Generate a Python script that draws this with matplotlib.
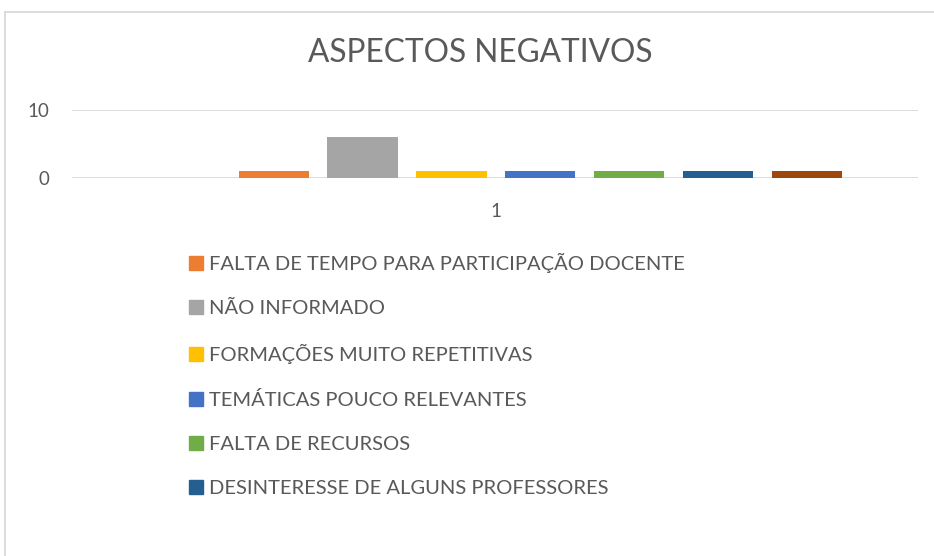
import matplotlib.pyplot as plt
import matplotlib.patches as mpatches
from matplotlib.lines import Line2D

plt.rcParams['font.family'] = ['Lato', 'DejaVu Sans']

# series (one bar each, all in category "1")
series_names = ['', 'FALTA DE TEMPO PARA PARTICIPAÇÃO DOCENTE', 'NÃO INFORMADO',
                'FORMAÇÕES MUITO REPETITIVAS', 'TEMÁTICAS POUCO RELEVANTES',
                'FALTA DE RECURSOS', 'DESINTERESSE DE ALGUNS PROFESSORES', '']
series_values = [0, 1, 6, 1, 1, 1, 1, 1]
series_colors = ['#5B9BD5', '#ED7D31', '#A5A5A5', '#FFC000', '#4472C4',
                 '#70AD47', '#255E91', '#9E480E']
category = '1'
title = 'ASPECTOS NEGATIVOS'

W, H = 934, 556
fig = plt.figure(figsize=(W / 100, H / 100), dpi=100)

ax = fig.add_axes([72 / W, 1 - 178 / H, (918 - 72) / W, 68 / H])
xs = list(range(len(series_values)))
bars = ax.bar(xs, series_values, width=0.79, color=series_colors, zorder=2)
ax.set_xlim(-1.27, 8.25)
ax.set_ylim(0, 10)
ax.set_yticks([0, 10])
ax.set_xticks([sum(xs) / len(xs)])
ax.set_xticklabels([category])
ax.tick_params(length=0, labelsize=13.5, labelcolor='#595959')
ax.tick_params(axis='x', pad=18)
ax.tick_params(axis='y', pad=16)
ax.grid(axis='y', color='#D9D9D9', linewidth=1.3, zorder=3)
for s in ax.spines.values():
    s.set_visible(False)

fig.text(480 / W, 1 - 53 / H, title, ha='center', va='center',
         fontsize=22.8, color='#595959')

handles = [mpatches.Patch(color=c, label=n)
           for n, c in zip(series_names, series_colors) if n]
fig.legend(handles=handles, loc='upper left', bbox_to_anchor=(181 / W, 1 - 245 / H),
           frameon=False, fontsize=14.5, labelcolor='#595959',
           handlelength=0.68, handleheight=0.68, handletextpad=0.3,
           labelspacing=1.34, borderaxespad=0)

# chart frame (left and top edge visible)
fig.add_artist(Line2D([5 / W, 5 / W], [0, 1 - 12 / H], color='#D9D9D9', lw=1.3))
fig.add_artist(Line2D([5 / W, 1], [1 - 12 / H, 1 - 12 / H], color='#D9D9D9', lw=1.3))

fig.savefig('out.png', dpi=100)
